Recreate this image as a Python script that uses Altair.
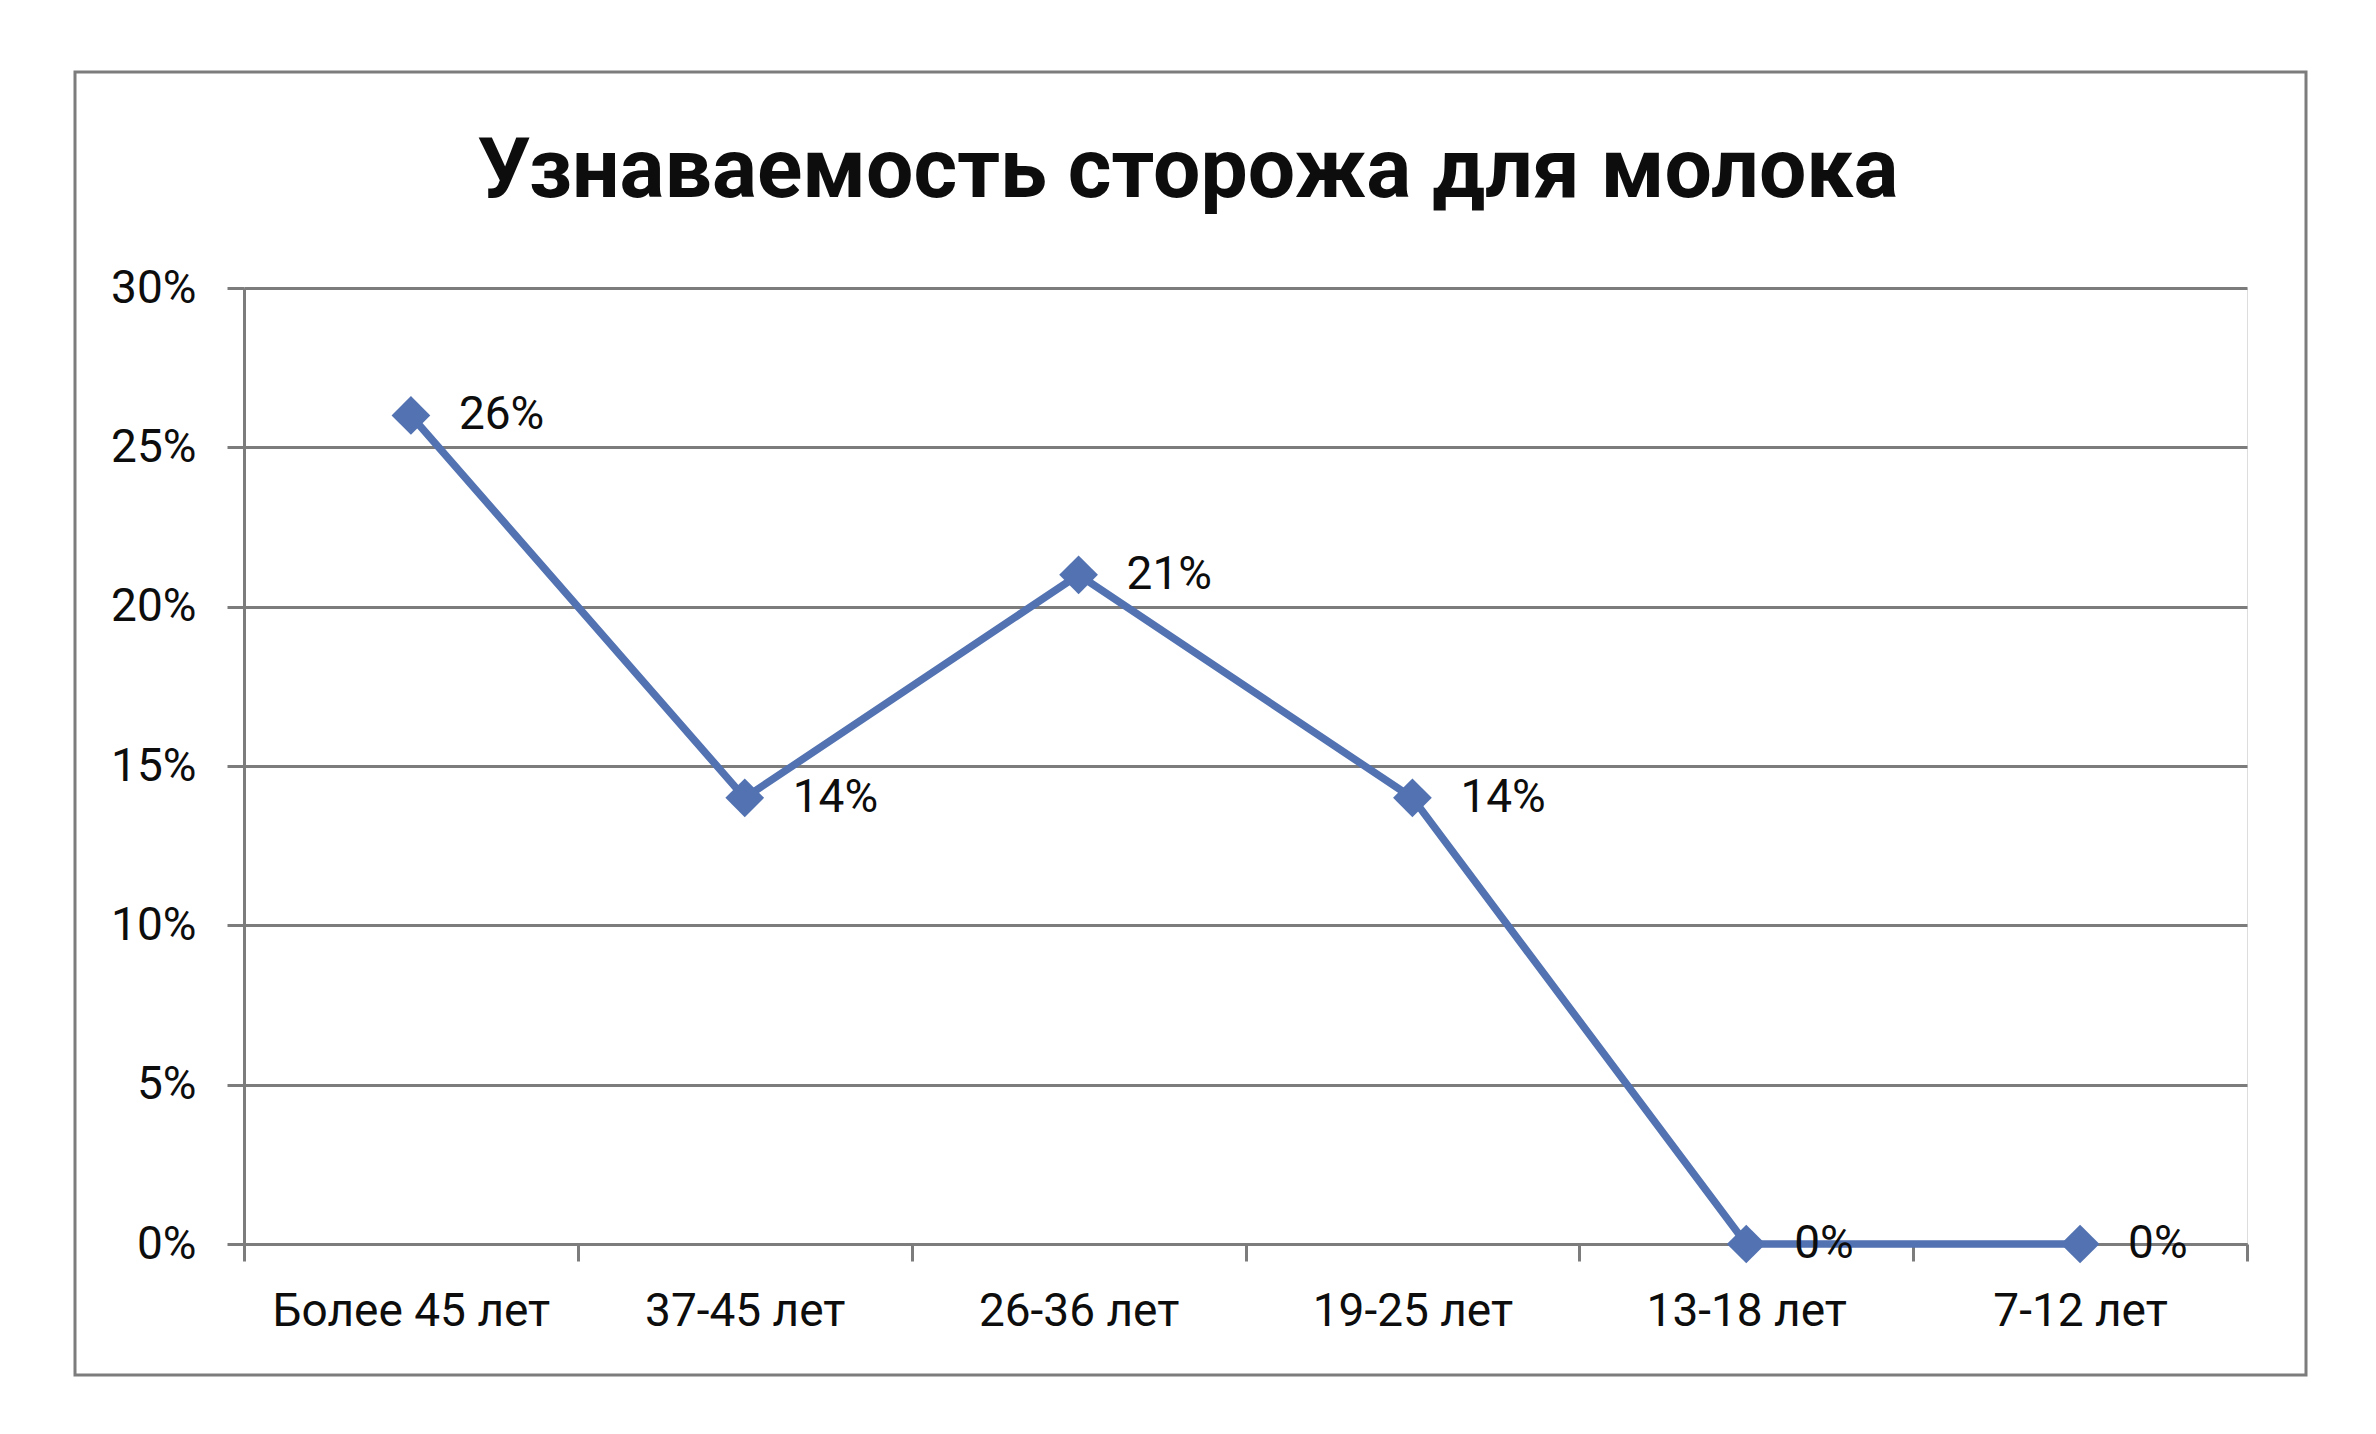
import altair as alt
import pandas as pd

categories = ["Более 45 лет", "37-45 лет", "26-36 лет", "19-25 лет", "13-18 лет", "7-12 лет"]
values = [0.26, 0.14, 0.21, 0.14, 0.0, 0.0]
y_ticks = [0.0, 0.05, 0.10, 0.15, 0.20, 0.25, 0.30]
title_text = "Узнаваемость сторожа для молока"

df = pd.DataFrame({"cat": categories, "val": values})
one_df = pd.DataFrame({"t": [title_text]})

FONT = "Roboto"
LINE = "#5272B2"
GRAY = "#7c7c7c"
TXT = "#0d0d0d"

W, H = 2003, 956

x_enc = alt.X(
    "cat:N",
    sort=categories,
    title=None,
    scale=alt.Scale(paddingInner=0, paddingOuter=0),
    axis=alt.Axis(
        tickBand="extent",
        labelAngle=0,
        labelFont=FONT,
        labelFontSize=46,
        labelColor=TXT,
        labelPadding=28,
        labelLimit=0,
        tickSize=17,
        tickColor=GRAY,
        tickWidth=3,
        domainColor=GRAY,
        domainWidth=3,
        grid=False,
    ),
)
y_enc = alt.Y(
    "val:Q",
    title=None,
    scale=alt.Scale(domain=[0, 0.3], nice=False, zero=True),
    axis=alt.Axis(
        values=y_ticks,
        format=".0%",
        labelFont=FONT,
        labelFontSize=46,
        labelColor=TXT,
        labelPadding=31,
        tickSize=17,
        tickColor=GRAY,
        tickWidth=3,
        domainColor=GRAY,
        domainWidth=3,
        grid=True,
        gridColor=GRAY,
        gridWidth=3,
    ),
)

base = alt.Chart(df)

line = base.mark_line(color=LINE, strokeWidth=7.5).encode(x=x_enc, y=y_enc)
points = base.mark_point(shape="diamond", filled=True, color=LINE, size=1500, opacity=1).encode(
    x=alt.X("cat:N", sort=categories), y="val:Q"
)
labels = base.mark_text(
    align="left", baseline="middle", dx=48, font=FONT, fontSize=46, color=TXT
).encode(
    x=alt.X("cat:N", sort=categories),
    y="val:Q",
    text=alt.Text("val:Q", format=".0%"),
)

border = alt.Chart(one_df).mark_rect(
    stroke=GRAY, strokeWidth=3, fill="white", fillOpacity=0
).encode(
    x=alt.value(-169), x2=alt.value(2062), y=alt.value(-216), y2=alt.value(1087)
)

title = alt.Chart(one_df).mark_text(
    align="center", baseline="alphabetic", font=FONT, fontSize=84, fontWeight="bold", color=TXT
).encode(
    x=alt.value(944), y=alt.value(-91), text="t:N"
)

chart = alt.layer(border, title, line, points, labels).properties(
    width=W,
    height=H,
    autosize=alt.AutoSizeParams(type="none"),
    padding={"left": 236, "top": 280, "right": 110, "bottom": 170},
).configure_view(stroke=None).configure(background="white")

chart.save("out.html", embed_options={"renderer": "svg", "actions": False})
